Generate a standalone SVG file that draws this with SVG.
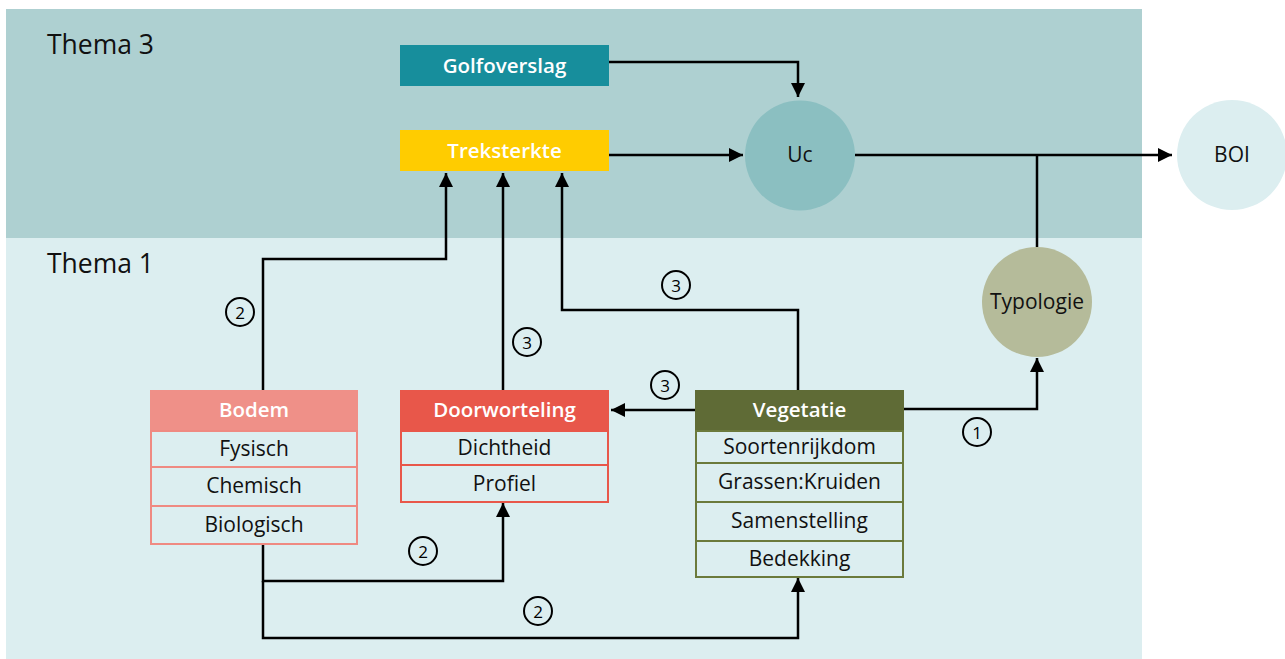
<svg xmlns="http://www.w3.org/2000/svg" width="1285" height="659" viewBox="0 0 1285 659">
<defs>
<marker id="arr" markerUnits="userSpaceOnUse" markerWidth="14" markerHeight="14" refX="14" refY="7" orient="auto"><path d="M0,0 L14,7 L0,14 z" fill="#000"/></marker>
<style>
text{font-family:"Open Sans","Liberation Sans",sans-serif;text-anchor:middle;dominant-baseline:central}
.hd{font-size:20.5px;font-weight:600;fill:#fff}
.row{font-size:21px;fill:#111}
.lbl{font-size:21px;fill:#111}
.theme{font-size:26.5px;fill:#111;text-anchor:start}
.con{fill:none;stroke:#000;stroke-width:2.5}
.num circle{fill:none;stroke:#000;stroke-width:2}
.num text{font-size:17px;fill:#000}
</style>
</defs>
<rect x="0" y="0" width="1285" height="659" fill="#fff"/>
<rect x="6" y="9" width="1136" height="229" fill="#aed0d1"/>
<rect x="6" y="238" width="1136" height="421" fill="#dceef0"/>
<text class="theme" x="47" y="44">Thema 3</text>
<text class="theme" x="47" y="263">Thema 1</text>

<g id="connectors">
<path class="con" d="M609,62 H798 V97" marker-end="url(#arr)"/>
<path class="con" d="M609,155 H743" marker-end="url(#arr)"/>
<path class="con" d="M855,155 H1172" marker-end="url(#arr)"/>
<path class="con" d="M1037,155 V247"/>
<path class="con" d="M263,390 V259 H446 V173" marker-end="url(#arr)"/>
<path class="con" d="M503,390 V173" marker-end="url(#arr)"/>
<path class="con" d="M798,390 V310 H562 V173" marker-end="url(#arr)"/>
<path class="con" d="M695,410 H611" marker-end="url(#arr)"/>
<path class="con" d="M904,409 H1037 V358" marker-end="url(#arr)"/>
<path class="con" d="M263,544 V581 H503 V503" marker-end="url(#arr)"/>
<path class="con" d="M263,581 V638 H798 V578" marker-end="url(#arr)"/>
<g class="num"><circle cx="240" cy="312" r="14"/><text x="240" y="312">2</text></g>
<g class="num"><circle cx="527" cy="342" r="14"/><text x="527" y="342">3</text></g>
<g class="num"><circle cx="676" cy="285" r="14"/><text x="676" y="285">3</text></g>
<g class="num"><circle cx="665" cy="385" r="14"/><text x="665" y="385">3</text></g>
<g class="num"><circle cx="977" cy="432" r="14"/><text x="977" y="432">1</text></g>
<g class="num"><circle cx="423" cy="551" r="14"/><text x="423" y="551">2</text></g>
<g class="num"><circle cx="538" cy="611" r="14"/><text x="538" y="611">2</text></g>
</g>

<g id="golfoverslag">
<rect x="400" y="45" width="209" height="41" fill="#178e9c"/>
<text class="hd" x="504.5" y="65">Golfoverslag</text>
</g>
<g id="treksterkte">
<rect x="400" y="130" width="209" height="41" fill="#ffcc00"/>
<text class="hd" x="504.5" y="150">Treksterkte</text>
</g>
<g id="uc">
<circle cx="800" cy="155.5" r="55" fill="#8bbfc1"/>
<text class="lbl" x="800" y="154">Uc</text>
</g>
<g id="boi">
<circle cx="1232" cy="155" r="55" fill="#dceef0"/>
<text class="lbl" x="1232" y="154">BOI</text>
</g>
<g id="typologie">
<circle cx="1037" cy="302" r="55" fill="#b5bb9a"/>
<text class="lbl" x="1037" y="301">Typologie</text>
</g>

<g id="bodem">
<rect x="150" y="390" width="208" height="41" fill="#ef9088"/>
<text class="hd" x="254" y="409">Bodem</text>
<rect x="151" y="431" width="206" height="113" fill="none" stroke="#ef8a82" stroke-width="2"/>
<line x1="151" y1="467" x2="357" y2="467" stroke="#ef8a82" stroke-width="2"/>
<line x1="151" y1="506" x2="357" y2="506" stroke="#ef8a82" stroke-width="2"/>
<text class="row" x="254" y="448">Fysisch</text>
<text class="row" x="254" y="485">Chemisch</text>
<text class="row" x="254" y="524">Biologisch</text>
</g>

<g id="doorworteling">
<rect x="400" y="390" width="209" height="41" fill="#e8574a"/>
<text class="hd" x="504.5" y="409">Doorworteling</text>
<rect x="401" y="431" width="207" height="71" fill="none" stroke="#e8574a" stroke-width="2"/>
<line x1="401" y1="465" x2="608" y2="465" stroke="#e8574a" stroke-width="2"/>
<text class="row" x="504.5" y="447">Dichtheid</text>
<text class="row" x="504.5" y="483">Profiel</text>
</g>

<g id="vegetatie">
<rect x="695" y="390" width="209" height="41" fill="#5f6b36"/>
<text class="hd" x="799.5" y="409">Vegetatie</text>
<rect x="696" y="431" width="207" height="146" fill="none" stroke="#6b7a3c" stroke-width="2"/>
<line x1="696" y1="463" x2="903" y2="463" stroke="#6b7a3c" stroke-width="2"/>
<line x1="696" y1="502" x2="903" y2="502" stroke="#6b7a3c" stroke-width="2"/>
<line x1="696" y1="541" x2="903" y2="541" stroke="#6b7a3c" stroke-width="2"/>
<text class="row" x="799.5" y="446">Soortenrijkdom</text>
<text class="row" x="799.5" y="481">Grassen:Kruiden</text>
<text class="row" x="799.5" y="520">Samenstelling</text>
<text class="row" x="799.5" y="558">Bedekking</text>
</g>
</svg>
